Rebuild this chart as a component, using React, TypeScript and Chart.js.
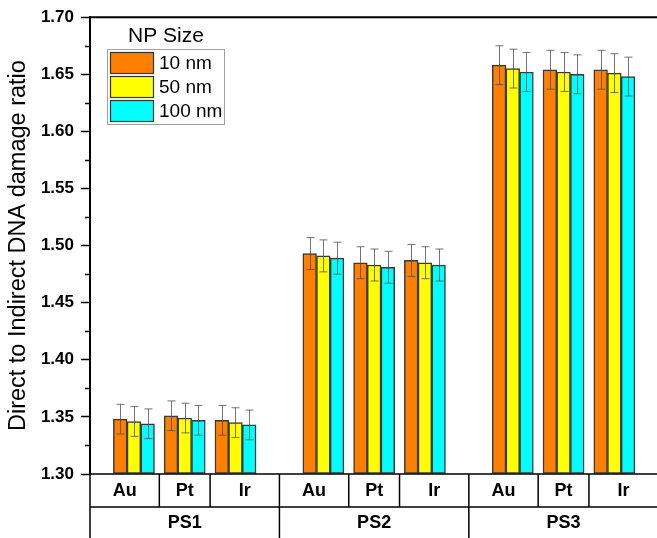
import React, { useEffect, useRef } from 'react';
import { Chart, registerables } from 'chart.js';

Chart.register(...registerables);

// ---------- data ----------
const GROUPS = ['PS1', 'PS2', 'PS3'];
const METALS = ['Au', 'Pt', 'Ir'];
const SERIES_LABELS = ['10 nm', '50 nm', '100 nm'];
const SIZE_10 = [1.348, 1.351, 1.347, 1.493, 1.485, 1.487, 1.658, 1.654, 1.654];
const SIZE_50 = [1.346, 1.349, 1.345, 1.491, 1.483, 1.485, 1.655, 1.652, 1.651];
const SIZE_100 = [1.344, 1.347, 1.343, 1.489, 1.481, 1.483, 1.652, 1.650, 1.648];
const ERR_10 = [0.013, 0.013, 0.013, 0.014, 0.014, 0.014, 0.017, 0.017, 0.017];
const ERR_50 = [0.013, 0.013, 0.013, 0.014, 0.014, 0.014, 0.017, 0.017, 0.017];
const ERR_100 = [0.013, 0.013, 0.013, 0.014, 0.014, 0.014, 0.017, 0.017, 0.017];
const Y_MIN = 1.3;
const Y_MAX = 1.7;
const Y_STEP = 0.05;
const Y_TITLE = 'Direct to Indirect DNA damage ratio';
const LEGEND_TITLE = 'NP Size';

// ---------- layout ----------
const GROUP_SPAN = 3.73;
const HALF_GAP = (GROUP_SPAN - 2) / 2;
const FONT = '"Liberation Sans", Arial, sans-serif';
const COLORS = ['#FF8000', '#FFFF00', '#00FFFF'];
const xPos = (i: number) => Math.floor(i / METALS.length) * GROUP_SPAN + (i % METALS.length);

const SERIES = [SIZE_10, SIZE_50, SIZE_100];
const ERRORS = [ERR_10, ERR_50, ERR_100];

const framePlugin = {
  id: 'frame',
  afterDraw(chart: any) {
    const { ctx, chartArea } = chart;
    const x = chart.scales.x;
    const y = chart.scales.y;
    const H = chart.height;
    ctx.save();
    // top border
    ctx.strokeStyle = '#000';
    ctx.lineWidth = 2;
    ctx.beginPath();
    ctx.moveTo(chartArea.left, chartArea.top);
    ctx.lineTo(chartArea.right, chartArea.top);
    ctx.stroke();
    // minor ticks
    ctx.lineWidth = 1.5;
    for (let v = Y_MIN + Y_STEP / 2; v < Y_MAX; v += Y_STEP) {
      const py = Math.round(y.getPixelForValue(v)) + 0.5;
      ctx.beginPath();
      ctx.moveTo(chartArea.left - 5, py);
      ctx.lineTo(chartArea.left, py);
      ctx.stroke();
    }
    // category table
    const rowTop = chartArea.bottom;
    const rowMid = chartArea.bottom + 33;
    ctx.lineWidth = 1.5;
    ctx.beginPath();
    ctx.moveTo(chartArea.left, rowTop);
    ctx.lineTo(chartArea.right, rowTop);
    ctx.moveTo(chartArea.left, rowMid);
    ctx.lineTo(chartArea.right, rowMid);
    ctx.moveTo(chartArea.left, rowTop);
    ctx.lineTo(chartArea.left, H);
    ctx.stroke();
    ctx.fillStyle = '#000';
    ctx.textAlign = 'center';
    ctx.textBaseline = 'middle';
    GROUPS.forEach((g, gi) => {
      const base = gi * GROUP_SPAN;
      const gl = x.getPixelForValue(base - HALF_GAP);
      const gr = x.getPixelForValue(base + 2 + HALF_GAP);
      ctx.beginPath();
      ctx.moveTo(gr, rowTop);
      ctx.lineTo(gr, H);
      ctx.stroke();
      METALS.forEach((m, mi) => {
        const cl = mi === 0 ? gl : x.getPixelForValue(base + mi - 0.5);
        const cr = mi === METALS.length - 1 ? gr : x.getPixelForValue(base + mi + 0.5);
        if (mi < METALS.length - 1) {
          ctx.beginPath();
          ctx.moveTo(cr, rowTop);
          ctx.lineTo(cr, rowMid);
          ctx.stroke();
        }
        ctx.font = `bold 18px ${FONT}`;
        ctx.fillText(m, (cl + cr) / 2, (rowTop + rowMid) / 2 + 1);
      });
      ctx.font = `bold 18px ${FONT}`;
      ctx.fillText(g, (gl + gr) / 2, (rowMid + H) / 2 + 1);
    });
    // legend
    ctx.font = `21px ${FONT}`;
    ctx.fillText(LEGEND_TITLE, 166, 36);
    ctx.strokeStyle = '#a0a0a0';
    ctx.lineWidth = 1;
    ctx.strokeRect(107.5, 49.5, 117, 75);
    chart.data.datasets.forEach((ds: any, i: number) => {
      const ty = 52 + i * 24;
      ctx.fillStyle = ds.backgroundColor;
      ctx.fillRect(110, ty, 43, 21);
      ctx.strokeStyle = '#333';
      ctx.lineWidth = 1.2;
      ctx.strokeRect(110.5, ty + 0.5, 43, 21);
      ctx.fillStyle = '#000';
      ctx.font = `19px ${FONT}`;
      ctx.textAlign = 'left';
      ctx.fillText(ds.label, 159, ty + 11.5);
    });
    ctx.restore();
  },
};

const errorBarPlugin = {
  id: 'errorBars',
  afterDatasetsDraw(chart: any) {
    const { ctx } = chart;
    const y = chart.scales.y;
    ctx.save();
    ctx.strokeStyle = 'rgba(70,70,70,0.75)';
    ctx.lineWidth = 1;
    chart.data.datasets.forEach((ds: any, di: number) => {
      const meta = chart.getDatasetMeta(di);
      meta.data.forEach((bar: any, i: number) => {
        const v = ds.data[i].y;
        const e = ERRORS[di][i];
        const top = y.getPixelForValue(v + e);
        const bot = y.getPixelForValue(v - e);
        const cx = Math.round(bar.x) + 0.5;
        ctx.beginPath();
        ctx.moveTo(cx, top);
        ctx.lineTo(cx, bot);
        ctx.moveTo(cx - 4, top);
        ctx.lineTo(cx + 4, top);
        ctx.moveTo(cx - 4, bot);
        ctx.lineTo(cx + 4, bot);
        ctx.stroke();
      });
    });
    ctx.restore();
  },
};

export default function App() {
  const ref = useRef<HTMLCanvasElement | null>(null);
  useEffect(() => {
    if (!ref.current) return;
    const chart = new Chart(ref.current, {
      type: 'bar',
      data: {
        datasets: SERIES.map((vals, si) => ({
          label: SERIES_LABELS[si],
          data: vals.map((v, i) => ({ x: xPos(i), y: v })),
          backgroundColor: COLORS[si],
          borderColor: '#3a3a3a',
          borderWidth: 1.5,
          borderSkipped: false,
          barThickness: 13.7,
          base: Y_MIN,
        })),
      },
      options: {
        animation: false,
        responsive: true,
        maintainAspectRatio: false,
        layout: { padding: { top: 14, bottom: 64, left: 0, right: 0 } },
        plugins: { legend: { display: false }, tooltip: { enabled: false } },
        scales: {
          x: {
            type: 'linear',
            display: false,
            offset: false,
            grid: { offset: false },
            min: -HALF_GAP,
            max: 10.3,
          },
          y: {
            min: Y_MIN,
            max: Y_MAX,
            ticks: {
              stepSize: Y_STEP,
              color: '#000',
              padding: 7,
              font: { family: FONT, size: 17, weight: 'bold' },
              callback: (v: any) => Number(v).toFixed(2),
            },
            grid: { drawOnChartArea: false, tickLength: 9, tickColor: '#000', tickWidth: 1.5 },
            border: { display: true, color: '#000', width: 2 },
            title: {
              display: true,
              text: Y_TITLE,
              color: '#000',
              font: { family: FONT, size: 23.5 },
              padding: { top: 4, bottom: 0 },
            },
            afterFit: (s: any) => {
              s.width = 90;
            },
          },
        },
      } as any,
      plugins: [errorBarPlugin, framePlugin],
    });
    return () => chart.destroy();
  }, []);
  return (
    <div style={{ position: 'fixed', left: 0, top: 0, width: 657, height: 538, background: '#fff' }}>
      <canvas ref={ref} />
    </div>
  );
}
